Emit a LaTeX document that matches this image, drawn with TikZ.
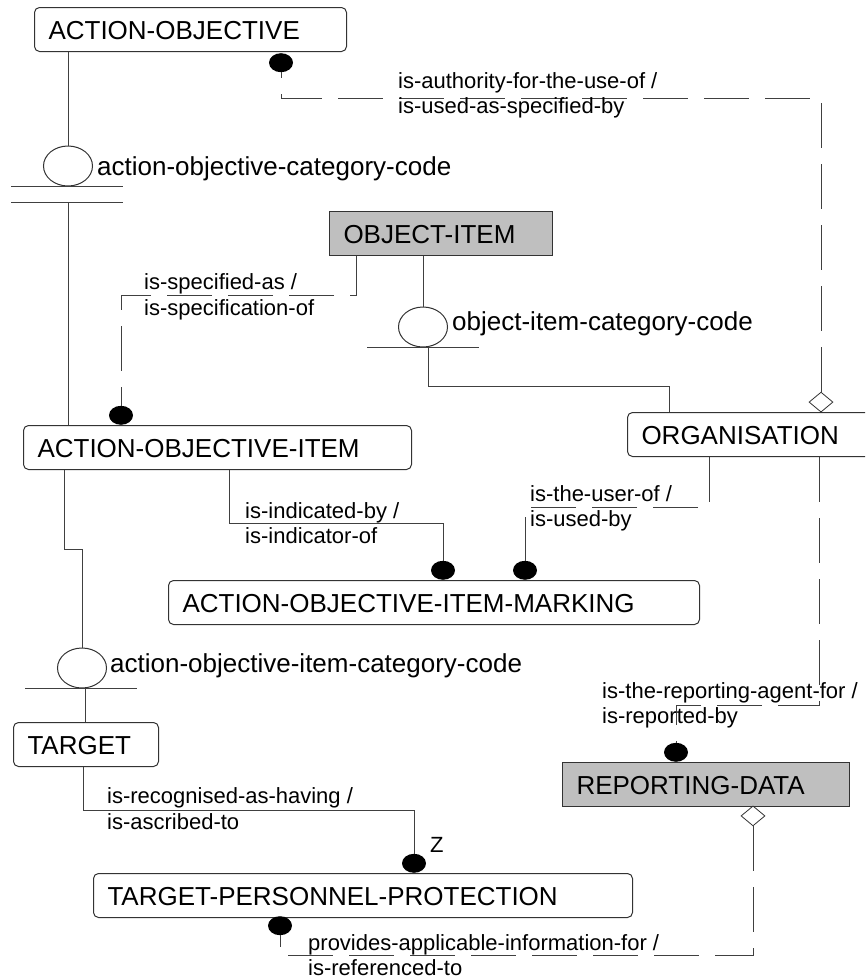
\documentclass[tikz,border=0pt]{standalone}
\usepackage{fontspec}
\setmainfont{Liberation Sans}
\usetikzlibrary{shapes.geometric,calc}

\newcommand\entfont{\fontsize{26}{30}\selectfont}
\newcommand\relfont{\fontsize{22}{25}\selectfont}

\begin{document}
\begin{tikzpicture}[x=1pt,y=-1pt,
  entity/.style={draw=black!80, line width=1pt, rounded corners=5pt, anchor=north west,
    inner xsep=14pt, inner ysep=0pt, minimum height=44pt, text height=19pt, text depth=0pt,
    align=left, font=\entfont},
  shaded/.style={entity, rounded corners=0pt, fill=black!25},
  catoval/.style={draw=black!80, line width=1pt, ellipse, minimum width=49pt, minimum height=40pt, inner sep=0pt},
  dot/.style={fill=black, ellipse, minimum width=24pt, minimum height=19pt, inner sep=0pt},
  opt/.style={draw=black!80, fill=white, line width=0.8pt, diamond, minimum width=24pt, minimum height=20pt, inner sep=0pt},
  link/.style={draw=black!75, line width=1pt},
  nonid/.style={link, dash pattern=on 45pt off 16pt},
  rolelabel/.style={anchor=base west, inner sep=0pt, font=\relfont},
  attr/.style={anchor=base west, inner sep=0pt, font=\entfont}
]
\useasboundingbox (0,0) rectangle (865,980);
\fill[white] (0,0) rectangle (865,980);
\clip (0,0) rectangle (865,980);

% entities
\node[entity, text width=284pt] (ao)  at (34,7)    {ACTION-OBJECTIVE};
\node[shaded, text width=195pt] (oi)  at (329,211) {OBJECT-ITEM};
\node[entity, text width=360pt] (aoi) at (23,425)  {ACTION-OBJECTIVE-ITEM};
\node[entity, text width=225pt] (org) at (627,412) {ORGANISATION};
\node[entity, text width=503pt] (aoim) at (168,580) {ACTION-OBJECTIVE-ITEM-MARKING};
\node[entity, text width=117pt] (tgt) at (13,722)  {TARGET};
\node[shaded, text width=259pt] (rd)  at (562,762) {REPORTING-DATA};
\node[entity, text width=511pt] (tpp) at (93,873)  {TARGET-PERSONNEL-PROTECTION};

% category discriminators
\node[catoval] (aoc)  at (68,166)  {};
\node[catoval] (oic)  at (423,327) {};
\node[catoval] (aoic) at (82,668)  {};
\node[attr] (aoct)  at (97,175)  {action-objective-category-code};
\node[attr] (oict)  at (452,330) {object-item-category-code};
\node[attr] (aoict) at (110,672) {action-objective-item-category-code};

% relationship ends
\node[dot, anchor=north] (d1) at (281,53)  {};
\node[dot, anchor=south] (d2) at (121,425) {};
\node[dot, anchor=south] (d3) at (443,580) {};
\node[dot, anchor=south] (d4) at (525,580) {};
\node[dot, anchor=south] (d5) at (676,762) {};
\node[dot, anchor=north] (d6) at (280,916) {};
\node[dot, anchor=south] (d7) at (414,873) {};

% bend points
\coordinate (k1)  at (281,98);
\coordinate (k2)  at (356,295);
\coordinate (k3)  at (709,507);
\coordinate (k4)  at (819,705);
\coordinate (k5)  at (753,955);
\coordinate (k7)  at (428,386);
\coordinate (k7b) at (669,386);
\coordinate (k8)  at (64,549);
\coordinate (k9)  at (229,523);
\coordinate (k10) at (83,810);

% complete category: ACTION-OBJECTIVE
\draw[link] (ao.south -| aoc.north) -- (aoc.north);
\draw[link] ($(aoc.south)+(-57,0)$) -- ($(aoc.south)+(55,0)$);
\draw[link] ($(aoc.south)+(-57,16)$) -- ($(aoc.south)+(55,16)$);
\draw[link] ($(aoc.south)+(0,16)$) -- (aoi.north -| aoc.south);

% incomplete category: OBJECT-ITEM
\draw[link] (oi.south -| oic.north) -- (oic.north);
\draw[link] ($(oic.south)+(-56,0)$) -- ($(oic.south)+(56,0)$);
\draw[link] (k7 |- oic.south) -- (k7) -- (k7b) -- (org.north -| k7b);

% incomplete category: ACTION-OBJECTIVE-ITEM
\draw[link] (aoi.south -| k8) -- (k8) -| (aoic.north);
\draw[link] ($(aoic.south)+(-57,0)$) -- ($(aoic.south)+(55,0)$);
\draw[link] ($(aoic.south)+(3,0)$) -- (tgt.north -| 85,0);

% identifying relationships
\draw[link] (aoi.south -| k9) -- (k9) -| (d3.north);
\draw[link] (tgt.south -| k10) -- (k10) -| (d7.north);

% non-identifying relationships
\node[opt, anchor=south] (dm1) at (821,412.5) {};
\node[opt, anchor=north] (dm2) at (753,805.5) {};
\draw[nonid] (dm1.north) |- (k1) -- (d1.south);
\draw[nonid] (oi.south -| k2) -- (k2) -| (d2.north);
\draw[nonid] (org.south -| k3) -- (k3) -| (d4.north);
\draw[nonid] (org.south -| k4) -- (k4) -| (d5.north);
\draw[nonid] (dm2.south) -- (k5) -| (d6.south);

% relationship names
\node[rolelabel] (r1a) at (398,88)  {is-authority-for-the-use-of /};
\node[rolelabel] (r1b) at (398,113) {is-used-as-specified-by};
\node[rolelabel] (r2a) at (144,289) {is-specified-as /};
\node[rolelabel] (r2b) at (144,315) {is-specification-of};
\node[rolelabel] (r3a) at (245,518) {is-indicated-by /};
\node[rolelabel] (r3b) at (245,543) {is-indicator-of};
\node[rolelabel] (r4a) at (530,501) {is-the-user-of /};
\node[rolelabel] (r4b) at (530,526) {is-used-by};
\node[rolelabel] (r5a) at (602,698) {is-the-reporting-agent-for /};
\node[rolelabel] (r5b) at (602,723) {is-reported-by};
\node[rolelabel] (r6a) at (107,803) {is-recognised-as-having /};
\node[rolelabel] (r6b) at (107,829) {is-ascribed-to};
\node[rolelabel] (r7a) at (308,950) {provides-applicable-information-for /};
\node[rolelabel] (r7b) at (308,975) {is-referenced-to};
\node[rolelabel] (z)   at (430,852) {Z};
\end{tikzpicture}
\end{document}
